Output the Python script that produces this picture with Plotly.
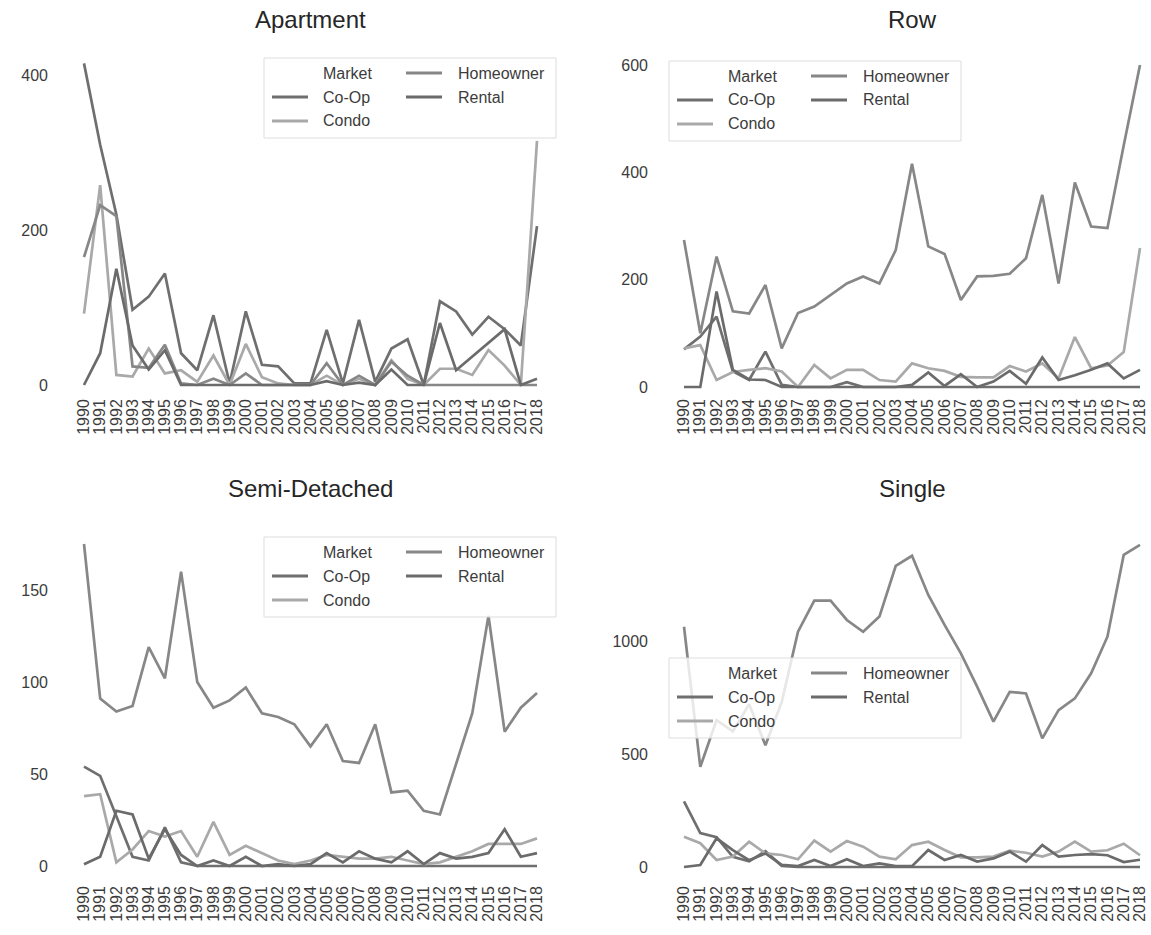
import plotly.graph_objects as go

W, H = 1151, 935
FONT = "Liberation Sans, Arial, sans-serif"

years = list(range(1990, 2019))
year_labels = [str(y) for y in years]
markets = ["Co-Op", "Condo", "Homeowner", "Rental"]
market_colors = {"Co-Op": "#6f6f6f", "Condo": "#a9a9a9",
                 "Homeowner": "#878787", "Rental": "#6b6b6b"}

# ---- Apartment ----
apartment_co_op = [415, 310, 220, 97, 114, 144, 41, 19, 90, 2, 95, 26, 24, 2, 2,
                   71, 2, 84, 4, 47, 59, 0, 108, 95, 65, 88, 72, 51, 205]
apartment_condo = [92, 258, 13, 11, 47, 15, 19, 4, 38, 0, 53, 10, 2, 0, 0,
                   12, 0, 8, 0, 32, 8, 0, 21, 21, 13, 45, 25, 0, 315]
apartment_homeowner = [165, 232, 218, 24, 22, 52, 2, 0, 8, 0, 15, 0, 0, 0, 0,
                       28, 0, 12, 0, 30, 12, 0, 0, 0, 0, 0, 0, 0, 0]
apartment_rental = [0, 41, 150, 51, 20, 45, 0, 0, 0, 0, 0, 0, 0, 0, 0,
                    5, 0, 3, 0, 20, 0, 0, 80, 19, 37, 54, 72, 0, 8]

# ---- Row ----
row_co_op = [70, 94, 131, 29, 13, 66, 4, 0, 0, 0, 9, 0, 0, 0, 0,
             0, 0, 0, 0, 0, 0, 0, 0, 0, 0, 0, 0, 0, 0]
row_condo = [72, 78, 13, 28, 32, 35, 29, 0, 41, 16, 32, 32, 13, 10, 44,
             35, 30, 19, 18, 18, 39, 29, 44, 16, 93, 35, 40, 65, 259]
row_homeowner = [274, 100, 243, 141, 137, 190, 72, 138, 150, 171, 193, 206, 193, 255, 416,
                 262, 248, 162, 206, 207, 211, 240, 358, 193, 381, 299, 296, 450, 600]
row_rental = [0, 0, 178, 32, 14, 13, 0, 0, 0, 0, 0, 0, 0, 0, 4,
              27, 2, 24, 0, 10, 30, 6, 55, 13, 22, 32, 44, 16, 32]

# ---- Semi-Detached ----
semi_co_op = [54, 49, 27, 5, 3, 21, 2, 0, 0, 0, 0, 0, 0, 0, 0,
              0, 0, 0, 0, 0, 0, 0, 0, 0, 0, 0, 0, 0, 0]
semi_condo = [38, 39, 2, 9, 19, 16, 19, 5, 24, 6, 11, 7, 3, 1, 3,
              6, 5, 4, 4, 5, 3, 1, 2, 5, 8, 12, 12, 12, 15]
semi_homeowner = [175, 91, 84, 87, 119, 102, 160, 100, 86, 90, 97, 83, 81, 77, 65,
                  77, 57, 56, 77, 40, 41, 30, 28, 55, 83, 136, 73, 86, 94]
semi_rental = [1, 5, 30, 28, 4, 20, 6, 0, 3, 0, 5, 0, 1, 0, 1,
               7, 2, 8, 4, 2, 8, 1, 7, 4, 5, 7, 20, 5, 7]

# ---- Single ----
single_co_op = [290, 150, 132, 45, 25, 70, 5, 0, 0, 0, 0, 0, 0, 0, 0,
                0, 0, 0, 0, 0, 0, 0, 0, 0, 0, 0, 0, 0, 0]
single_condo = [134, 105, 31, 46, 112, 60, 53, 34, 117, 68, 115, 90, 46, 34, 97,
                112, 75, 43, 43, 46, 72, 63, 46, 68, 112, 68, 74, 103, 52]
single_homeowner = [1063, 443, 650, 600, 720, 539, 730, 1041, 1179, 1179, 1093, 1041, 1108, 1332, 1377,
                    1204, 1071, 945, 798, 643, 775, 768, 569, 694, 746, 857, 1019, 1381, 1425]
single_rental = [0, 9, 127, 75, 30, 60, 9, 4, 31, 4, 34, 4, 16, 4, 4,
                 75, 31, 53, 24, 38, 68, 24, 97, 46, 53, 57, 52, 22, 32]

# Panel geometry in pixels: axis box, where 1990/2018 and two y values sit,
# legend box corner, and title row.
panels = [
    dict(title="Apartment",
         series=[apartment_co_op, apartment_condo, apartment_homeowner, apartment_rental],
         box_x=(57, 562), year_px=(84, 537), box_y=(45, 395),
         y_ref=((0, 385), (400, 75)), ticks=[0, 200, 400],
         legend=(264, 58), title_y=20),
    dict(title="Row",
         series=[row_co_op, row_condo, row_homeowner, row_rental],
         box_x=(657, 1151), year_px=(684, 1140), box_y=(45, 395),
         y_ref=((0, 387), (600, 65)), ticks=[0, 200, 400, 600],
         legend=(669, 61), title_y=20),
    dict(title="Semi-Detached",
         series=[semi_co_op, semi_condo, semi_homeowner, semi_rental],
         box_x=(57, 562), year_px=(84, 537), box_y=(520, 882),
         y_ref=((0, 866), (150, 590)), ticks=[0, 50, 100, 150],
         legend=(264, 537), title_y=489),
    dict(title="Single",
         series=[single_co_op, single_condo, single_homeowner, single_rental],
         box_x=(657, 1151), year_px=(684, 1140), box_y=(520, 882),
         y_ref=((0, 867), (1000, 641)), ticks=[0, 500, 1000],
         legend=(669, 658), title_y=489),
]

fig = go.Figure()
shapes = []
annotations = []
LINE_W = 2.7
TEXT = "#3c3c3c"

for i, p in enumerate(panels, start=1):
    xa = "x" if i == 1 else f"x{i}"
    ya = "y" if i == 1 else f"y{i}"
    for name, vals in zip(markets, p["series"]):
        fig.add_trace(go.Scatter(x=years, y=vals, mode="lines", name=name,
                                 line=dict(color=market_colors[name], width=LINE_W),
                                 xaxis=xa, yaxis=ya, showlegend=False))

    # x axis: map 1990/2018 onto their pixel columns
    bx0, bx1 = p["box_x"]
    px0, px1 = p["year_px"]
    ppy = (px1 - px0) / (years[-1] - years[0])
    xr = [years[0] - (px0 - bx0) / ppy, years[-1] + (bx1 - px1) / ppy]
    # y axis: map reference values onto their pixel rows
    by0, by1 = p["box_y"]
    (v0, p0), (v1, p1) = p["y_ref"]
    ppu = (p0 - p1) / (v1 - v0)
    yr = [v0 - (by1 - p0) / ppu, v0 + (p0 - by0) / ppu]

    xkey = "xaxis" if i == 1 else f"xaxis{i}"
    ykey = "yaxis" if i == 1 else f"yaxis{i}"
    fig.update_layout(**{
        xkey: dict(domain=[bx0 / W, bx1 / W], range=xr, anchor=ya,
                   tickmode="array", tickvals=years, ticktext=year_labels,
                   tickangle=-90, showgrid=False, zeroline=False, showline=False,
                   ticks="", tickfont=dict(family=FONT, size=16, color=TEXT)),
        ykey: dict(domain=[1 - by1 / H, 1 - by0 / H], range=yr, anchor=xa,
                   tickmode="array", tickvals=p["ticks"], ticklabelstandoff=8,
                   showgrid=False, zeroline=False, showline=False, ticks="",
                   tickfont=dict(family=FONT, size=16, color=TEXT)),
    })

    # panel title
    annotations.append(dict(text=p["title"], x=(px0 + px1) / 2 / W, y=1 - p["title_y"] / H,
                            xref="paper", yref="paper", showarrow=False,
                            xanchor="center", yanchor="middle",
                            font=dict(family=FONT, size=24, color="#262626")))

    # legend frame with a "Market" header entry and two columns of handles
    L, T = p["legend"]
    lw, lh = 292, 80
    shapes.append(dict(type="rect", xref="paper", yref="paper", layer="above",
                       x0=L / W, x1=(L + lw) / W, y0=1 - T / H, y1=1 - (T + lh) / H,
                       fillcolor="rgba(255,255,255,0.8)",
                       line=dict(color="#dddddd", width=1)))
    rows = [T + 15, T + 39, T + 63]
    entries = [(None, 0, 0), ("Co-Op", 0, 1), ("Condo", 0, 2),
               ("Homeowner", 1, 0), ("Rental", 1, 1)]
    for name, col, row in entries:
        hx0 = L + (8 if col == 0 else 142)
        tx = L + (57 if col == 0 else 192)
        cy = rows[row]
        if name is not None:
            shapes.append(dict(type="line", xref="paper", yref="paper", layer="above",
                               x0=hx0 / W, x1=(hx0 + 36) / W, y0=1 - cy / H, y1=1 - cy / H,
                               line=dict(color=market_colors[name], width=LINE_W + 0.5)))
        annotations.append(dict(text=name if name else "Market",
                                x=tx / W, y=1 - cy / H, xref="paper", yref="paper",
                                showarrow=False, xanchor="left", yanchor="middle",
                                font=dict(family=FONT, size=16, color=TEXT)))

fig.update_layout(width=W, height=H, margin=dict(l=0, r=0, t=0, b=0),
                  paper_bgcolor="white", plot_bgcolor="white",
                  shapes=shapes, annotations=annotations, showlegend=False)

fig.write_html("out.html")
